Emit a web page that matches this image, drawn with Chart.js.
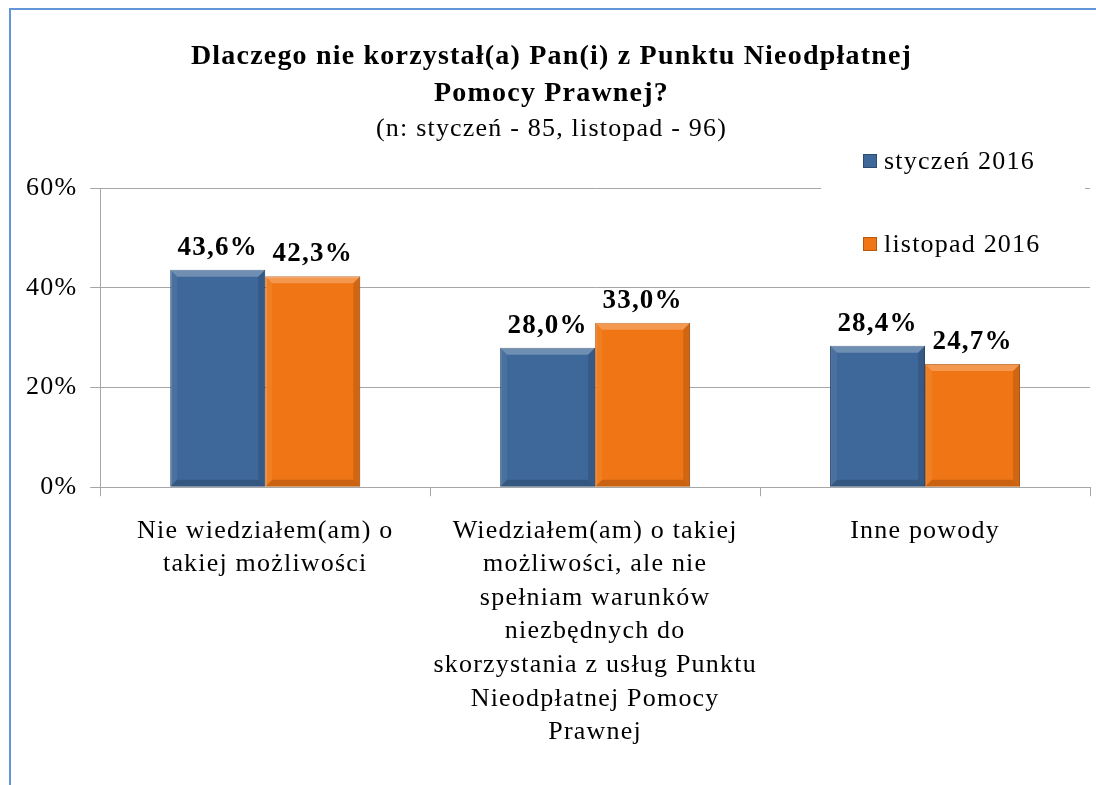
<!DOCTYPE html>
<html lang="pl">
<head>
<meta charset="UTF-8">
<title>Dlaczego nie korzystał(a) Pan(i) z Punktu Nieodpłatnej Pomocy Prawnej?</title>
<script src="https://cdn.jsdelivr.net/npm/chart.js"></script>
<style>
  body { margin: 0; background: #fff; overflow: hidden; }
  .frame { position: absolute; left: 9px; top: 8px; width: 1200px; height: 900px;
           border-left: 2px solid #6495d8; border-top: 2px solid #6495d8; }
  canvas { position: absolute; left: 0; top: 0; }
</style>
</head>
<body>
<div class="frame"></div>
<canvas id="chart" width="1096" height="785"></canvas>
<script>
// dane
const categories = [
  ['Nie wiedziałem(am) o', 'takiej możliwości'],
  ['Wiedziałem(am) o takiej', 'możliwości, ale nie', 'spełniam warunków', 'niezbędnych do',
   'skorzystania z usług Punktu', 'Nieodpłatnej Pomocy', 'Prawnej'],
  ['Inne powody']
];
const seriesNames = ['styczeń 2016', 'listopad 2016'];
const styczen = [43.6, 28.0, 28.4];
const listopad = [42.3, 33.0, 24.7];
const yTicks = [0, 20, 40, 60];

const serif = '"Liberation Serif", "Times New Roman", serif';
const colors = ['#3e6899', '#f07615'];
const edges = ['#2b4b70', '#b5580e'];

// the original text is set a bit wider than plain Times
const spacing = {
  id: 'spacing',
  beforeLayout(chart) { chart.ctx.letterSpacing = '1.2px'; },
  beforeDraw(chart) { chart.ctx.letterSpacing = '1.2px'; }
};

// bevel look of the bars
const bevel = {
  id: 'bevel',
  afterDatasetsDraw(chart) {
    const ctx = chart.ctx;
    chart.data.datasets.forEach((ds, i) => {
      chart.getDatasetMeta(i).data.forEach(bar => {
        const p = bar.getProps(['x', 'y', 'base', 'width'], true);
        const l = p.x - p.width / 2, r = p.x + p.width / 2, t = p.y, b = p.base, s = 7;
        const poly = (pts, fill) => {
          ctx.beginPath();
          pts.forEach((q, k) => k ? ctx.lineTo(q[0], q[1]) : ctx.moveTo(q[0], q[1]));
          ctx.closePath();
          ctx.fillStyle = fill;
          ctx.fill();
        };
        ctx.save();
        poly([[l, t], [r, t], [r - s, t + s], [l + s, t + s]], 'rgba(255,255,255,0.25)');
        poly([[l, t], [l + s, t + s], [l + s, b - s], [l, b]], 'rgba(255,255,255,0.06)');
        poly([[r, t], [r, b], [r - s, b - s], [r - s, t + s]], 'rgba(0,0,0,0.13)');
        poly([[l, b], [r, b], [r - s, b - s], [l + s, b - s]], 'rgba(0,0,0,0.16)');
        ctx.restore();
      });
    });
  }
};

// value labels above bars
const valueLabels = {
  id: 'valueLabels',
  afterDatasetsDraw(chart) {
    const ctx = chart.ctx;
    ctx.save();
    ctx.font = 'bold 27px ' + serif;
    ctx.fillStyle = '#000';
    ctx.textAlign = 'center';
    ctx.textBaseline = 'alphabetic';
    chart.data.datasets.forEach((ds, i) => {
      chart.getDatasetMeta(i).data.forEach((bar, j) => {
        const txt = ds.data[j].toFixed(1).replace('.', ',') + '%';
        ctx.fillText(txt, bar.x, bar.y - 15);
      });
    });
    ctx.restore();
  }
};

// legend box in the top right corner
const sideLegend = {
  id: 'sideLegend',
  afterDraw(chart) {
    const ctx = chart.ctx;
    const a = chart.chartArea;
    const x0 = a.right - 269, y0 = 140;
    ctx.save();
    ctx.fillStyle = '#fff';
    ctx.fillRect(x0, y0, 264, 142);
    ctx.font = '26px ' + serif;
    ctx.textBaseline = 'middle';
    chart.data.datasets.forEach((ds, i) => {
      const cy = 161 + i * 83;
      ctx.fillStyle = ds.backgroundColor;
      ctx.fillRect(x0 + 42, cy - 7, 14, 14);
      ctx.strokeStyle = ds.borderColor;
      ctx.lineWidth = 1;
      ctx.strokeRect(x0 + 42.5, cy - 6.5, 13, 13);
      ctx.fillStyle = '#000';
      ctx.fillText(ds.label, x0 + 63, cy + 1);
    });
    ctx.restore();
  }
};

new Chart(document.getElementById('chart'), {
  type: 'bar',
  data: {
    labels: categories,
    datasets: [
      { label: seriesNames[0], data: styczen, backgroundColor: colors[0], borderColor: edges[0] },
      { label: seriesNames[1], data: listopad, backgroundColor: colors[1], borderColor: edges[1] }
    ].map(d => Object.assign(d, { borderWidth: 1, barPercentage: 1, categoryPercentage: 0.576 }))
  },
  options: {
    responsive: false,
    animation: false,
    layout: { padding: { left: 13, right: 6, top: 0, bottom: 18 } },
    plugins: {
      legend: { display: false },
      tooltip: { enabled: false },
      title: {
        display: true,
        text: ['Dlaczego nie korzystał(a) Pan(i) z Punktu Nieodpłatnej', 'Pomocy Prawnej?'],
        color: '#000',
        font: { family: serif, size: 28, weight: 'bold', lineHeight: 1.32 },
        padding: { top: 38, bottom: 0 }
      },
      subtitle: {
        display: true,
        text: '(n: styczeń - 85, listopad - 96)',
        color: '#000',
        font: { family: serif, size: 26, lineHeight: 1.2 },
        padding: { top: 2, bottom: 43 }
      }
    },
    scales: {
      x: {
        grid: { drawOnChartArea: false, offset: true, tickLength: 9, color: '#a6a6a6' },
        border: { color: '#a6a6a6' },
        ticks: {
          color: '#000', padding: 18, maxRotation: 0, autoSkip: false,
          font: { family: serif, size: 26, lineHeight: 1.29 }
        }
      },
      y: {
        min: 0, max: 60,
        afterBuildTicks: axis => { axis.ticks = yTicks.map(v => ({ value: v })); },
        grid: { color: '#a6a6a6', tickLength: 10 },
        border: { color: '#a6a6a6' },
        ticks: {
          color: '#000', padding: 13,
          font: { family: serif, size: 26 },
          callback: v => v + '%'
        }
      }
    }
  },
  plugins: [spacing, bevel, valueLabels, sideLegend]
});
</script>
</body>
</html>
